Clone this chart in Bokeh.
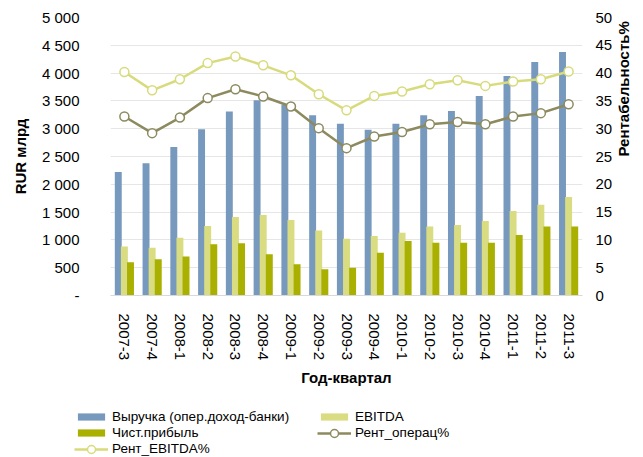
import math
from bokeh.plotting import figure
from bokeh.layouts import column
from bokeh.models import (Range1d, LinearAxis, FactorRange, FixedTicker, Legend,
                          LegendItem, ColumnDataSource)
from bokeh.transform import dodge
from bokeh.embed import file_html
from bokeh.resources import INLINE

quarters = ["2007-3", "2007-4", "2008-1", "2008-2", "2008-3", "2008-4", "2009-1",
            "2009-2", "2009-3", "2009-4", "2010-1", "2010-2", "2010-3", "2010-4",
            "2011-1", "2011-2", "2011-3"]
revenue = [2220, 2380, 2670, 2990, 3310, 3510, 3430, 3240, 3090, 2980, 3090, 3240,
           3320, 3590, 3950, 4200, 4380]
ebitda = [880, 860, 1040, 1250, 1410, 1450, 1360, 1170, 1020, 1070, 1130, 1240,
          1270, 1340, 1520, 1630, 1770]
net_profit = [600, 650, 700, 920, 940, 740, 560, 470, 500, 770, 980, 950, 950, 950,
              1090, 1240, 1240]
rent_oper = [32.2, 29.2, 32.0, 35.5, 37.1, 35.8, 34.0, 30.1, 26.5, 28.6, 29.4, 30.8,
             31.2, 30.8, 32.2, 32.8, 34.4]
rent_ebitda = [40.2, 36.9, 38.9, 41.8, 43.0, 41.4, 39.6, 36.2, 33.3, 35.9, 36.7, 38.0,
               38.7, 37.7, 38.5, 38.9, 40.3]
left_ticks = [0, 500, 1000, 1500, 2000, 2500, 3000, 3500, 4000, 4500, 5000]
right_ticks = [0, 5, 10, 15, 20, 25, 30, 35, 40, 45, 50]

FONT = "Liberation Sans"
C_REV = "#7899BE"
C_EBITDA = "#D9DC80"
C_NET = "#A9B000"
C_OPER = "#8C8A5E"
C_REBITDA = "#D8DB7C"

src = ColumnDataSource(dict(q=quarters, revenue=revenue, ebitda=ebitda,
                            net=net_profit, oper=rent_oper, rebitda=rent_ebitda))

MAIN_H = 389
p = figure(x_range=FactorRange(*quarters), y_range=Range1d(0, 5000),
           width=643, height=MAIN_H, output_backend="svg", toolbar_location=None,
           min_border_left=110, min_border_right=54, min_border_top=17,
           min_border_bottom=MAIN_H - 297)
p.frame_align = False
p.extra_y_ranges = {"pct": Range1d(0, 50)}
p.outline_line_color = None
p.background_fill_color = "white"
p.xgrid.grid_line_color = None
p.ygrid.ticker = FixedTicker(ticks=left_ticks)
p.ygrid.grid_line_color = "#E6E6E6"
p.ygrid.grid_line_width = 1

bar_kw = dict(width=0.25, line_color=None)
OFF = 0.22


def add_series(fig, yname=None, visible=True):
    rr = fig.vbar(x=dodge("q", -OFF, range=fig.x_range), top="revenue", source=src,
                  fill_color=C_REV, visible=visible, **bar_kw)
    re = fig.vbar(x=dodge("q", 0.0, range=fig.x_range), top="ebitda", source=src,
                  fill_color=C_EBITDA, visible=visible, **bar_kw)
    rn = fig.vbar(x=dodge("q", OFF, range=fig.x_range), top="net", source=src,
                  fill_color=C_NET, visible=visible, **bar_kw)
    kw = {} if yname is None else {"y_range_name": yname}
    lo = fig.line("q", "oper", source=src, line_color=C_OPER, line_width=2.5,
                  visible=visible, **kw)
    so = fig.scatter("q", "oper", source=src, size=9, fill_color="white",
                     line_color=C_OPER, line_width=1.5, visible=visible, **kw)
    lr = fig.line("q", "rebitda", source=src, line_color=C_REBITDA, line_width=2.5,
                  visible=visible, **kw)
    sr = fig.scatter("q", "rebitda", source=src, size=9, fill_color="white",
                     line_color=C_REBITDA, line_width=1.5, visible=visible, **kw)
    return rr, re, rn, lo, so, lr, sr


add_series(p, "pct")


def style_text_axis(ax, label, standoff, label_standoff):
    ax.axis_line_color = None
    ax.major_tick_line_color = None
    ax.minor_tick_line_color = None
    ax.major_tick_out = 0
    ax.major_tick_in = 0
    ax.major_label_standoff = standoff
    ax.major_label_text_font = FONT
    ax.major_label_text_font_size = "15px"
    ax.major_label_text_color = "#000000"
    ax.axis_label = label
    ax.axis_label_text_font = FONT
    ax.axis_label_text_font_size = "15px"
    ax.axis_label_text_font_style = "bold"
    ax.axis_label_text_color = "#000000"
    ax.axis_label_standoff = label_standoff


ya = p.yaxis[0]
ya.ticker = FixedTicker(ticks=left_ticks)
ya.major_label_overrides = {t: ("-" if t == 0 else f"{t:,}".replace(",", " "))
                            for t in left_ticks}
style_text_axis(ya, "RUR млрд", 31, 10)

ra = LinearAxis(y_range_name="pct", ticker=FixedTicker(ticks=right_ticks))
style_text_axis(ra, "Рентабельность%", 13, 8)
ra.axis_label_orientation = math.pi / 2
p.add_layout(ra, "right")

xa = p.xaxis[0]
style_text_axis(xa, "Год-квартал", 18, 6)
xa.axis_line_color = "#D9D9D9"
xa.major_label_orientation = -math.pi / 2

# Legend strip: hidden copies of the series supply the legend glyphs
LEG_H = 457 - MAIN_H
lf = figure(width=643, height=LEG_H, output_backend="svg", toolbar_location=None,
            x_axis_type=None, y_axis_type=None, min_border=0,
            x_range=p.x_range, y_range=Range1d(0, 5000))
lf.frame_align = False
lf.outline_line_color = None
lf.grid.visible = False
pr_rev, pr_ebitda, pr_net, pl_oper, ps_oper, pl_reb, ps_reb = add_series(lf, visible=False)


def add_legend(label, renderers, x, y_center, gh):
    h = max(gh, 15)
    vy = LEG_H - (y_center - MAIN_H) - h / 2
    lg = Legend(items=[LegendItem(label=label, renderers=renderers)],
                location=(x, vy), orientation="vertical",
                padding=0, margin=0, border_line_color=None,
                background_fill_alpha=0, glyph_width=34, glyph_height=gh,
                label_height=15, spacing=0, label_standoff=4,
                label_text_font=FONT, label_text_font_size="13.5px",
                label_text_color="#000000")
    lf.add_layout(lg, "center")


add_legend("Выручка (опер.доход-банки)", [pr_rev], 74, 416, 9)
add_legend("EBITDA", [pr_ebitda], 317, 416, 9)
add_legend("Чист.прибыль", [pr_net], 74, 432.5, 9)
add_legend("Рент_операц%", [pl_oper, ps_oper], 317, 432.5, 20)
add_legend("Рент_EBITDA%", [pl_reb, ps_reb], 74, 448.5, 20)

open("out.html", "w").write(file_html(column(p, lf, spacing=0), INLINE))
